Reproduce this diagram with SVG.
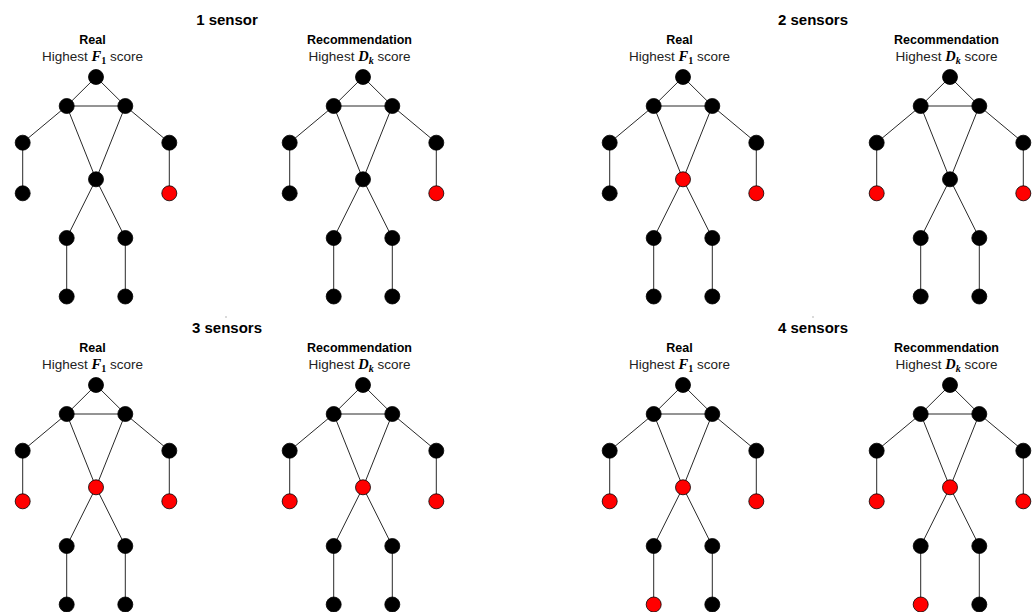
<svg xmlns="http://www.w3.org/2000/svg" xmlns:xlink="http://www.w3.org/1999/xlink" width="1035" height="612" viewBox="0 0 1035 612">
<style>
.t{font-family:"Liberation Sans",Arial,sans-serif;font-weight:bold;font-size:15px;fill:#000;text-anchor:middle}
.h{font-family:"Liberation Sans",Arial,sans-serif;font-weight:bold;font-size:12.5px;fill:#000;text-anchor:middle}
.s{font-family:"Liberation Sans",Arial,sans-serif;font-size:13.5px;fill:#222;text-anchor:middle}
.m{font-family:"Liberation Serif","Times New Roman",serif;font-weight:bold;font-style:italic;fill:#000}
.u{font-family:"Liberation Serif","Times New Roman",serif;font-weight:bold;font-style:normal;fill:#000}
.e line{stroke:#111;stroke-width:0.9}
.n{fill:#000;stroke:#000;stroke-width:0.8}
.r{fill:#ff0000;stroke:#000;stroke-width:0.8}
</style>
<defs>
<g id="edges" class="e">
<line x1="96" y1="77" x2="66.7" y2="106"/>
<line x1="96" y1="77" x2="125.3" y2="106"/>
<line x1="66.7" y1="106" x2="125.3" y2="106"/>
<line x1="66.7" y1="106" x2="22.7" y2="142.7"/>
<line x1="22.7" y1="142.7" x2="22.7" y2="193.3"/>
<line x1="125.3" y1="106" x2="169.3" y2="142.7"/>
<line x1="169.3" y1="142.7" x2="169.3" y2="193.3"/>
<line x1="66.7" y1="106" x2="96" y2="179.3"/>
<line x1="125.3" y1="106" x2="96" y2="179.3"/>
<line x1="96" y1="179.3" x2="66.7" y2="238"/>
<line x1="96" y1="179.3" x2="125.3" y2="238"/>
<line x1="66.7" y1="238" x2="66.7" y2="296.5"/>
<line x1="125.3" y1="238" x2="125.3" y2="296.5"/>
</g>
</defs>
<rect width="1035" height="612" fill="#fff"/>

<g id="titles">
<text class="t" x="227" y="25">1 sensor</text>
<text class="t" x="813" y="25">2 sensors</text>
<text class="t" x="227" y="333">3 sensors</text>
<text class="t" x="813" y="333">4 sensors</text>
<circle cx="226" cy="317" r="0.8" fill="#aaa"/>
<circle cx="813" cy="317" r="0.8" fill="#aaa"/>
</g>

<g id="connectors">
<use xlink:href="#edges" href="#edges" transform="translate(0,0)"/>
<use xlink:href="#edges" href="#edges" transform="translate(267,0)"/>
<use xlink:href="#edges" href="#edges" transform="translate(587,0)"/>
<use xlink:href="#edges" href="#edges" transform="translate(854,0)"/>
<use xlink:href="#edges" href="#edges" transform="translate(0,308)"/>
<use xlink:href="#edges" href="#edges" transform="translate(267,308)"/>
<use xlink:href="#edges" href="#edges" transform="translate(587,308)"/>
<use xlink:href="#edges" href="#edges" transform="translate(854,308)"/>
</g>

<!-- 1 sensor, Real -->
<g id="s1-real" transform="translate(0,0)">
<text class="h" x="92.5" y="44">Real</text>
<text class="s" x="92.5" y="61">Highest <tspan class="m" font-size="14.5">F</tspan><tspan class="u" font-size="10" dy="2.5">1</tspan><tspan dy="-2.5"> score</tspan></text>
<g id="s1-real-head"><circle class="n" cx="96" cy="77" r="7.5"/></g>
<g id="s1-real-lsh"><circle class="n" cx="66.7" cy="106" r="7.5"/></g>
<g id="s1-real-rsh"><circle class="n" cx="125.3" cy="106" r="7.5"/></g>
<g id="s1-real-lel"><circle class="n" cx="22.7" cy="142.7" r="7.5"/></g>
<g id="s1-real-rel"><circle class="n" cx="169.3" cy="142.7" r="7.5"/></g>
<g id="s1-real-lwr"><circle class="n" cx="22.7" cy="193.3" r="7.5"/></g>
<g id="s1-real-rwr"><circle class="r" cx="169.3" cy="193.3" r="7.5"/></g>
<g id="s1-real-hip"><circle class="n" cx="96" cy="179.3" r="7.5"/></g>
<g id="s1-real-lkn"><circle class="n" cx="66.7" cy="238" r="7.5"/></g>
<g id="s1-real-rkn"><circle class="n" cx="125.3" cy="238" r="7.5"/></g>
<g id="s1-real-lft"><circle class="n" cx="66.7" cy="296.5" r="7.5"/></g>
<g id="s1-real-rft"><circle class="n" cx="125.3" cy="296.5" r="7.5"/></g>
</g>

<!-- 1 sensor, Recommendation -->
<g id="s1-rec" transform="translate(267,0)">
<text class="h" x="92.5" y="44">Recommendation</text>
<text class="s" x="92.5" y="61">Highest <tspan class="m" font-size="14.5">D</tspan><tspan class="m" font-size="10" dy="2.5">k</tspan><tspan dy="-2.5"> score</tspan></text>
<g id="s1-rec-head"><circle class="n" cx="96" cy="77" r="7.5"/></g>
<g id="s1-rec-lsh"><circle class="n" cx="66.7" cy="106" r="7.5"/></g>
<g id="s1-rec-rsh"><circle class="n" cx="125.3" cy="106" r="7.5"/></g>
<g id="s1-rec-lel"><circle class="n" cx="22.7" cy="142.7" r="7.5"/></g>
<g id="s1-rec-rel"><circle class="n" cx="169.3" cy="142.7" r="7.5"/></g>
<g id="s1-rec-lwr"><circle class="n" cx="22.7" cy="193.3" r="7.5"/></g>
<g id="s1-rec-rwr"><circle class="r" cx="169.3" cy="193.3" r="7.5"/></g>
<g id="s1-rec-hip"><circle class="n" cx="96" cy="179.3" r="7.5"/></g>
<g id="s1-rec-lkn"><circle class="n" cx="66.7" cy="238" r="7.5"/></g>
<g id="s1-rec-rkn"><circle class="n" cx="125.3" cy="238" r="7.5"/></g>
<g id="s1-rec-lft"><circle class="n" cx="66.7" cy="296.5" r="7.5"/></g>
<g id="s1-rec-rft"><circle class="n" cx="125.3" cy="296.5" r="7.5"/></g>
</g>

<!-- 2 sensors, Real -->
<g id="s2-real" transform="translate(587,0)">
<text class="h" x="92.5" y="44">Real</text>
<text class="s" x="92.5" y="61">Highest <tspan class="m" font-size="14.5">F</tspan><tspan class="u" font-size="10" dy="2.5">1</tspan><tspan dy="-2.5"> score</tspan></text>
<g id="s2-real-head"><circle class="n" cx="96" cy="77" r="7.5"/></g>
<g id="s2-real-lsh"><circle class="n" cx="66.7" cy="106" r="7.5"/></g>
<g id="s2-real-rsh"><circle class="n" cx="125.3" cy="106" r="7.5"/></g>
<g id="s2-real-lel"><circle class="n" cx="22.7" cy="142.7" r="7.5"/></g>
<g id="s2-real-rel"><circle class="n" cx="169.3" cy="142.7" r="7.5"/></g>
<g id="s2-real-lwr"><circle class="n" cx="22.7" cy="193.3" r="7.5"/></g>
<g id="s2-real-rwr"><circle class="r" cx="169.3" cy="193.3" r="7.5"/></g>
<g id="s2-real-hip"><circle class="r" cx="96" cy="179.3" r="7.5"/></g>
<g id="s2-real-lkn"><circle class="n" cx="66.7" cy="238" r="7.5"/></g>
<g id="s2-real-rkn"><circle class="n" cx="125.3" cy="238" r="7.5"/></g>
<g id="s2-real-lft"><circle class="n" cx="66.7" cy="296.5" r="7.5"/></g>
<g id="s2-real-rft"><circle class="n" cx="125.3" cy="296.5" r="7.5"/></g>
</g>

<!-- 2 sensors, Recommendation -->
<g id="s2-rec" transform="translate(854,0)">
<text class="h" x="92.5" y="44">Recommendation</text>
<text class="s" x="92.5" y="61">Highest <tspan class="m" font-size="14.5">D</tspan><tspan class="m" font-size="10" dy="2.5">k</tspan><tspan dy="-2.5"> score</tspan></text>
<g id="s2-rec-head"><circle class="n" cx="96" cy="77" r="7.5"/></g>
<g id="s2-rec-lsh"><circle class="n" cx="66.7" cy="106" r="7.5"/></g>
<g id="s2-rec-rsh"><circle class="n" cx="125.3" cy="106" r="7.5"/></g>
<g id="s2-rec-lel"><circle class="n" cx="22.7" cy="142.7" r="7.5"/></g>
<g id="s2-rec-rel"><circle class="n" cx="169.3" cy="142.7" r="7.5"/></g>
<g id="s2-rec-lwr"><circle class="r" cx="22.7" cy="193.3" r="7.5"/></g>
<g id="s2-rec-rwr"><circle class="r" cx="169.3" cy="193.3" r="7.5"/></g>
<g id="s2-rec-hip"><circle class="n" cx="96" cy="179.3" r="7.5"/></g>
<g id="s2-rec-lkn"><circle class="n" cx="66.7" cy="238" r="7.5"/></g>
<g id="s2-rec-rkn"><circle class="n" cx="125.3" cy="238" r="7.5"/></g>
<g id="s2-rec-lft"><circle class="n" cx="66.7" cy="296.5" r="7.5"/></g>
<g id="s2-rec-rft"><circle class="n" cx="125.3" cy="296.5" r="7.5"/></g>
</g>

<!-- 3 sensors, Real -->
<g id="s3-real" transform="translate(0,308)">
<text class="h" x="92.5" y="44">Real</text>
<text class="s" x="92.5" y="61">Highest <tspan class="m" font-size="14.5">F</tspan><tspan class="u" font-size="10" dy="2.5">1</tspan><tspan dy="-2.5"> score</tspan></text>
<g id="s3-real-head"><circle class="n" cx="96" cy="77" r="7.5"/></g>
<g id="s3-real-lsh"><circle class="n" cx="66.7" cy="106" r="7.5"/></g>
<g id="s3-real-rsh"><circle class="n" cx="125.3" cy="106" r="7.5"/></g>
<g id="s3-real-lel"><circle class="n" cx="22.7" cy="142.7" r="7.5"/></g>
<g id="s3-real-rel"><circle class="n" cx="169.3" cy="142.7" r="7.5"/></g>
<g id="s3-real-lwr"><circle class="r" cx="22.7" cy="193.3" r="7.5"/></g>
<g id="s3-real-rwr"><circle class="r" cx="169.3" cy="193.3" r="7.5"/></g>
<g id="s3-real-hip"><circle class="r" cx="96" cy="179.3" r="7.5"/></g>
<g id="s3-real-lkn"><circle class="n" cx="66.7" cy="238" r="7.5"/></g>
<g id="s3-real-rkn"><circle class="n" cx="125.3" cy="238" r="7.5"/></g>
<g id="s3-real-lft"><circle class="n" cx="66.7" cy="296.5" r="7.5"/></g>
<g id="s3-real-rft"><circle class="n" cx="125.3" cy="296.5" r="7.5"/></g>
</g>

<!-- 3 sensors, Recommendation -->
<g id="s3-rec" transform="translate(267,308)">
<text class="h" x="92.5" y="44">Recommendation</text>
<text class="s" x="92.5" y="61">Highest <tspan class="m" font-size="14.5">D</tspan><tspan class="m" font-size="10" dy="2.5">k</tspan><tspan dy="-2.5"> score</tspan></text>
<g id="s3-rec-head"><circle class="n" cx="96" cy="77" r="7.5"/></g>
<g id="s3-rec-lsh"><circle class="n" cx="66.7" cy="106" r="7.5"/></g>
<g id="s3-rec-rsh"><circle class="n" cx="125.3" cy="106" r="7.5"/></g>
<g id="s3-rec-lel"><circle class="n" cx="22.7" cy="142.7" r="7.5"/></g>
<g id="s3-rec-rel"><circle class="n" cx="169.3" cy="142.7" r="7.5"/></g>
<g id="s3-rec-lwr"><circle class="r" cx="22.7" cy="193.3" r="7.5"/></g>
<g id="s3-rec-rwr"><circle class="r" cx="169.3" cy="193.3" r="7.5"/></g>
<g id="s3-rec-hip"><circle class="r" cx="96" cy="179.3" r="7.5"/></g>
<g id="s3-rec-lkn"><circle class="n" cx="66.7" cy="238" r="7.5"/></g>
<g id="s3-rec-rkn"><circle class="n" cx="125.3" cy="238" r="7.5"/></g>
<g id="s3-rec-lft"><circle class="n" cx="66.7" cy="296.5" r="7.5"/></g>
<g id="s3-rec-rft"><circle class="n" cx="125.3" cy="296.5" r="7.5"/></g>
</g>

<!-- 4 sensors, Real -->
<g id="s4-real" transform="translate(587,308)">
<text class="h" x="92.5" y="44">Real</text>
<text class="s" x="92.5" y="61">Highest <tspan class="m" font-size="14.5">F</tspan><tspan class="u" font-size="10" dy="2.5">1</tspan><tspan dy="-2.5"> score</tspan></text>
<g id="s4-real-head"><circle class="n" cx="96" cy="77" r="7.5"/></g>
<g id="s4-real-lsh"><circle class="n" cx="66.7" cy="106" r="7.5"/></g>
<g id="s4-real-rsh"><circle class="n" cx="125.3" cy="106" r="7.5"/></g>
<g id="s4-real-lel"><circle class="n" cx="22.7" cy="142.7" r="7.5"/></g>
<g id="s4-real-rel"><circle class="n" cx="169.3" cy="142.7" r="7.5"/></g>
<g id="s4-real-lwr"><circle class="r" cx="22.7" cy="193.3" r="7.5"/></g>
<g id="s4-real-rwr"><circle class="r" cx="169.3" cy="193.3" r="7.5"/></g>
<g id="s4-real-hip"><circle class="r" cx="96" cy="179.3" r="7.5"/></g>
<g id="s4-real-lkn"><circle class="n" cx="66.7" cy="238" r="7.5"/></g>
<g id="s4-real-rkn"><circle class="n" cx="125.3" cy="238" r="7.5"/></g>
<g id="s4-real-lft"><circle class="r" cx="66.7" cy="296.5" r="7.5"/></g>
<g id="s4-real-rft"><circle class="n" cx="125.3" cy="296.5" r="7.5"/></g>
</g>

<!-- 4 sensors, Recommendation -->
<g id="s4-rec" transform="translate(854,308)">
<text class="h" x="92.5" y="44">Recommendation</text>
<text class="s" x="92.5" y="61">Highest <tspan class="m" font-size="14.5">D</tspan><tspan class="m" font-size="10" dy="2.5">k</tspan><tspan dy="-2.5"> score</tspan></text>
<g id="s4-rec-head"><circle class="n" cx="96" cy="77" r="7.5"/></g>
<g id="s4-rec-lsh"><circle class="n" cx="66.7" cy="106" r="7.5"/></g>
<g id="s4-rec-rsh"><circle class="n" cx="125.3" cy="106" r="7.5"/></g>
<g id="s4-rec-lel"><circle class="n" cx="22.7" cy="142.7" r="7.5"/></g>
<g id="s4-rec-rel"><circle class="n" cx="169.3" cy="142.7" r="7.5"/></g>
<g id="s4-rec-lwr"><circle class="r" cx="22.7" cy="193.3" r="7.5"/></g>
<g id="s4-rec-rwr"><circle class="r" cx="169.3" cy="193.3" r="7.5"/></g>
<g id="s4-rec-hip"><circle class="r" cx="96" cy="179.3" r="7.5"/></g>
<g id="s4-rec-lkn"><circle class="n" cx="66.7" cy="238" r="7.5"/></g>
<g id="s4-rec-rkn"><circle class="n" cx="125.3" cy="238" r="7.5"/></g>
<g id="s4-rec-lft"><circle class="r" cx="66.7" cy="296.5" r="7.5"/></g>
<g id="s4-rec-rft"><circle class="n" cx="125.3" cy="296.5" r="7.5"/></g>
</g>
</svg>
